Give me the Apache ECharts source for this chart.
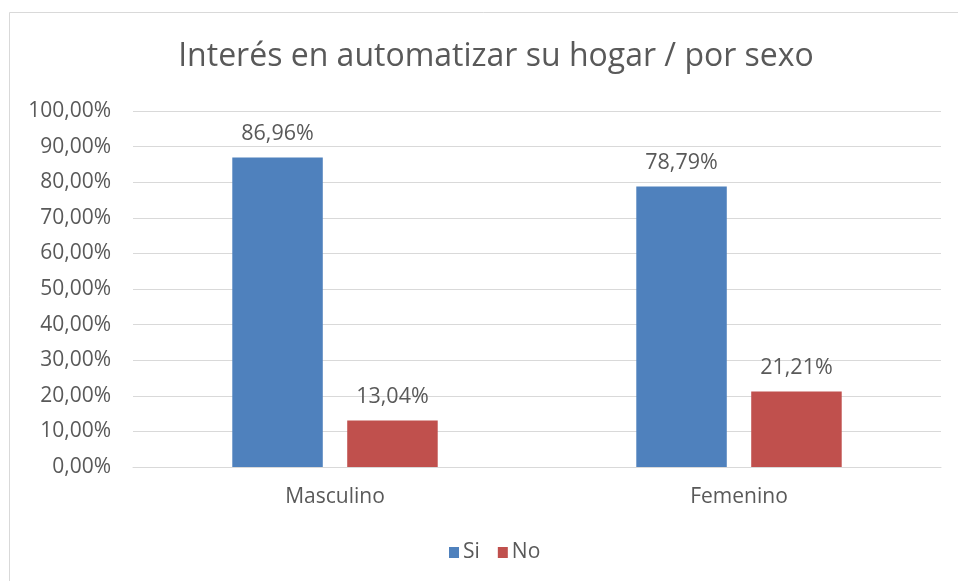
<!DOCTYPE html>
<html>
<head>
<meta charset="utf-8">
<script src="https://cdn.jsdelivr.net/npm/echarts@6/dist/echarts.min.js"></script>
<style>
    html, body {margin: 0; padding: 0; background: #fff;}
    #chart {width: 958px; height: 581px;}
</style>
</head>
<body>
<div id="chart"></div>
<script>
var categories = ['Masculino', 'Femenino']   //categorías
var siValues = [86.96, 78.79]                 //Si
var noValues = [13.04, 21.21]                 //No
var seriesNames = ['Si', 'No']

var textColor = '#595959'
var font = 'Open Sans'

function pct(v) {
    return v.toFixed(2).replace('.', ',') + '%'
}

var myChart = echarts.init(document.getElementById('chart'))

var option = {
    animation: false,
    backgroundColor: '#fff',
    color: ['#4f81bd', '#c0504d'],
    title: {
        text: 'Interés en automatizar su hogar / por sexo',
        left: 491,
        textAlign: 'center',
        top: 36,
        textStyle: {
            color: textColor,
            fontFamily: font,
            fontSize: 32,
            fontWeight: 'normal'
        }
    },
    legend: {
        data: seriesNames,
        left: 444,
        top: 537,
        itemWidth: 10,
        itemHeight: 11,
        itemGap: 18,
        icon: 'rect',
        textStyle: {
            color: textColor,
            fontFamily: font,
            fontSize: 21,
            padding: [0, 0, 0, -1]
        }
    },
    grid: {
        left: 133,
        right: 17,
        top: 111,
        bottom: 114
    },
    xAxis: {
        type: 'category',
        data: categories,
        axisLine: {lineStyle: {color: '#d9d9d9'}},
        axisTick: {show: false},
        axisLabel: {
            color: textColor,
            fontFamily: font,
            fontSize: 21,
            margin: 20
        }
    },
    yAxis: {
        type: 'value',
        min: 0,
        max: 100,
        interval: 10,
        axisLine: {show: false},
        axisTick: {show: false},
        splitLine: {lineStyle: {color: '#d9d9d9'}},
        axisLabel: {
            color: textColor,
            fontFamily: font,
            fontSize: 21,
            margin: 22,
            formatter: function (v) { return pct(v) }
        }
    },
    series: [
        {
            name: 'Si',
            type: 'bar',
            data: siValues,
            barWidth: '22.4%',
            barGap: '27%',
            label: {
                show: true,
                position: 'top',
                distance: 13,
                color: textColor,
                fontFamily: font,
                fontSize: 21.5,
                formatter: function (p) { return pct(p.value) }
            }
        },
        {
            name: 'No',
            type: 'bar',
            data: noValues,
            barWidth: '22.4%',
            barGap: '27%',
            label: {
                show: true,
                position: 'top',
                distance: 13,
                color: textColor,
                fontFamily: font,
                fontSize: 21.5,
                formatter: function (p) { return pct(p.value) }
            }
        }
    ],
    graphic: [
        {
            type: 'polyline',
            shape: {points: [[9.5, 581], [9.5, 12.5], [958, 12.5]]},
            style: {stroke: '#d9d9d9', lineWidth: 1, fill: null},
            silent: true
        }
    ]
}

myChart.setOption(option)
</script>
</body>
</html>
